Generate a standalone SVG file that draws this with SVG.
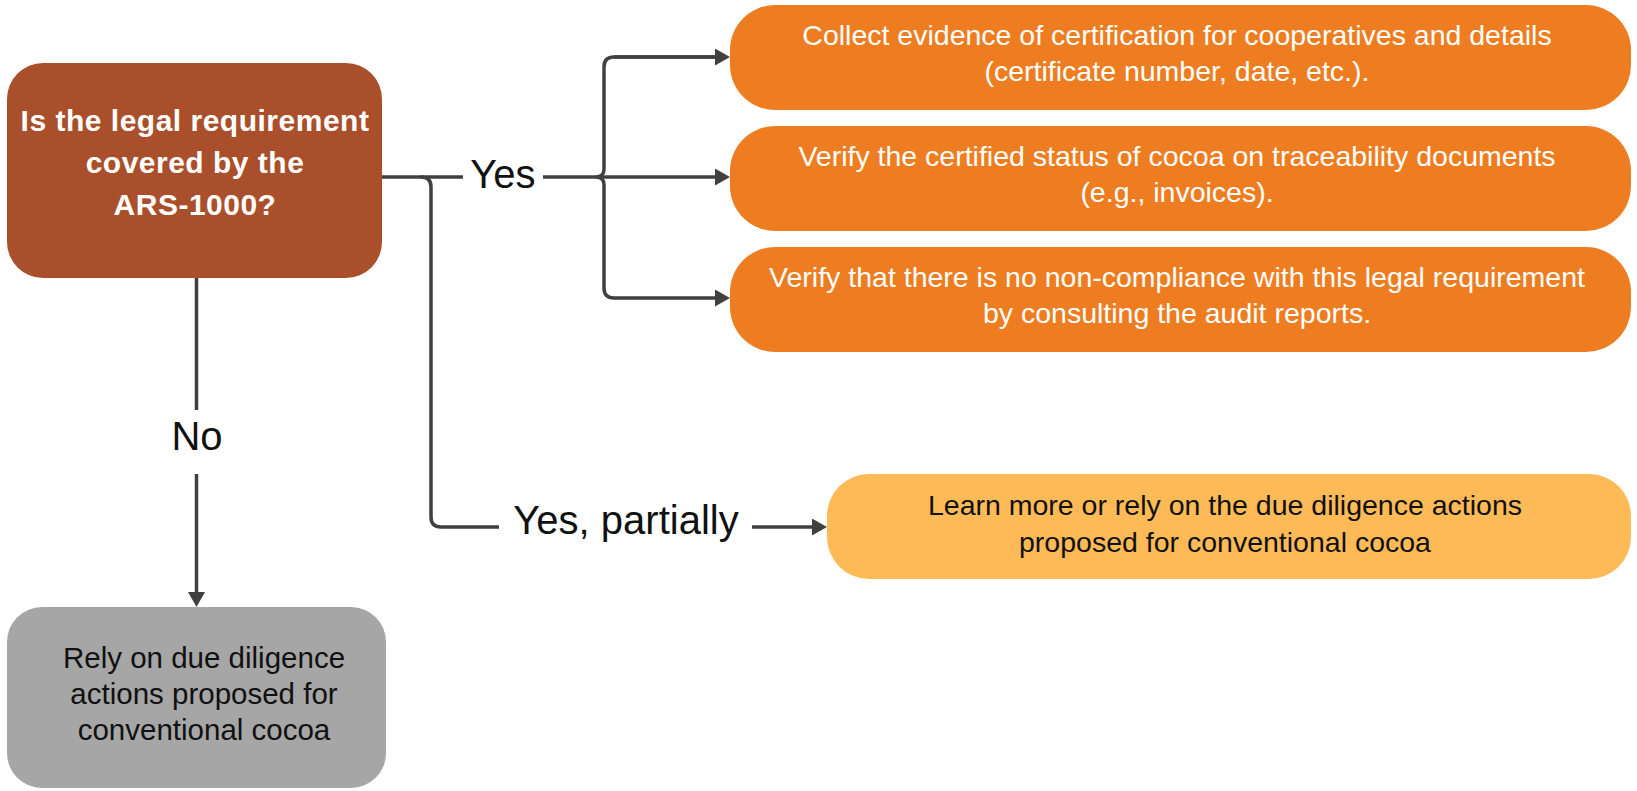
<svg xmlns="http://www.w3.org/2000/svg" width="1637" height="791" viewBox="0 0 1637 791">
  <defs>
    <style>
      .box-text { font-family: "Liberation Sans", Arial, sans-serif; font-size: 28.5px; text-anchor: middle; }
      .white { fill: #FFFFFF; }
      .dark { fill: #111111; }
      .grey-text { font-size: 29.5px; }
      .q { font-family: "Liberation Sans", Arial, sans-serif; font-size: 30px; font-weight: bold; fill: #FFFFFF; text-anchor: middle; letter-spacing: 0.5px; }
      .label { font-family: "Liberation Sans", Arial, sans-serif; font-size: 40px; fill: #111111; text-anchor: middle; }
      .conn { fill: none; stroke: #404040; stroke-width: 3.5; }
    </style>
    <marker id="arrow" markerUnits="userSpaceOnUse" markerWidth="16" markerHeight="18" refX="7" refY="8.5" orient="auto">
      <path d="M0,0 L15,8.5 L0,17 Z" fill="#404040"/>
    </marker>
  </defs>
  <rect width="1637" height="791" fill="#FFFFFF"/>

  <g id="connectors">
    <!-- Yes main line -->
    <path class="conn" d="M382,177 H463"/>
    <path class="conn" d="M543,177 H597"/>
    <!-- brace -->
    <path class="conn" d="M722,57 H614 Q604,57 604,67 V169 Q604,177 596,177 Q604,177 604,185 V288 Q604,298 614,298 H722" marker-end="url(#arrow)"/>
    <path class="conn" d="M614,57 H722" marker-end="url(#arrow)"/>
    <path class="conn" d="M597,177 H722" marker-end="url(#arrow)"/>
    <!-- Yes, partially branch -->
    <path class="conn" d="M421,177 Q431,177 431,187 V517 Q431,527 441,527 H499"/>
    <path class="conn" d="M752,527 H819" marker-end="url(#arrow)"/>
    <!-- No branch -->
    <path class="conn" d="M196.5,278 V410"/>
    <path class="conn" d="M196.5,474 V599" marker-end="url(#arrow)"/>
    <text class="label" x="503" y="188">Yes</text>
    <text class="label" x="626" y="534">Yes, partially</text>
    <text class="label" x="197" y="450">No</text>
  </g>

  <g id="node-question">
    <rect x="7" y="63" width="375" height="215" rx="36" ry="36" fill="#AA4F2B"/>
    <text class="q" x="195" y="131">Is the legal requirement</text>
    <text class="q" x="195" y="173">covered by the</text>
    <text class="q" x="195" y="215">ARS-1000?</text>
  </g>

  <g id="node-collect">
    <rect x="730" y="5" width="901" height="105" rx="45" ry="45" fill="#EE7D21"/>
    <text class="box-text white" x="1177" y="45">Collect evidence of certification for cooperatives and details</text>
    <text class="box-text white" x="1177" y="81">(certificate number, date, etc.).</text>
  </g>

  <g id="node-verify-status">
    <rect x="730" y="126" width="901" height="105" rx="45" ry="45" fill="#EE7D21"/>
    <text class="box-text white" x="1177" y="166">Verify the certified status of cocoa on traceability documents</text>
    <text class="box-text white" x="1177" y="202">(e.g., invoices).</text>
  </g>

  <g id="node-verify-audit">
    <rect x="730" y="247" width="901" height="105" rx="45" ry="45" fill="#EE7D21"/>
    <text class="box-text white" x="1177" y="287">Verify that there is no non-compliance with this legal requirement</text>
    <text class="box-text white" x="1177" y="323">by consulting the audit reports.</text>
  </g>

  <g id="node-partial">
    <rect x="827" y="474" width="804" height="105" rx="42" ry="42" fill="#FDBA56"/>
    <text class="box-text dark" x="1225" y="515">Learn more or rely on the due diligence actions</text>
    <text class="box-text dark" x="1225" y="552">proposed for conventional cocoa</text>
  </g>

  <g id="node-no">
    <rect x="7" y="607" width="379" height="181" rx="35" ry="35" fill="#A6A6A6"/>
    <text class="box-text dark grey-text" x="204" y="668">Rely on due diligence</text>
    <text class="box-text dark grey-text" x="204" y="704">actions proposed for</text>
    <text class="box-text dark grey-text" x="204" y="740">conventional cocoa</text>
  </g>
</svg>
